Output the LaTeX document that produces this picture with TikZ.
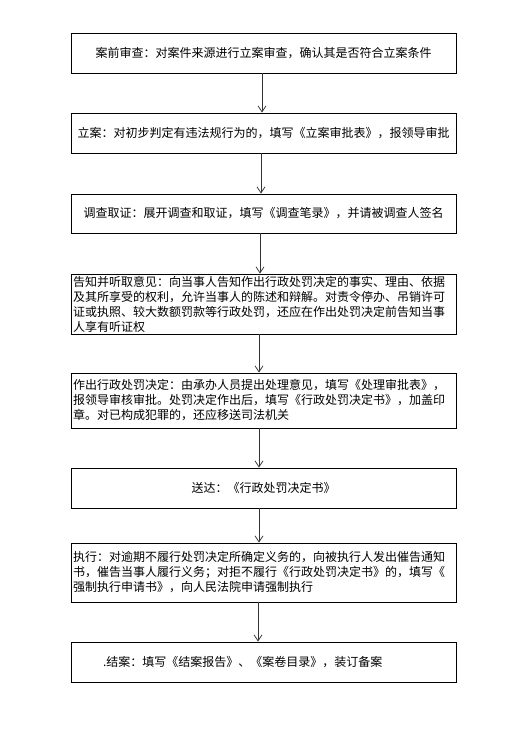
\documentclass[tikz,border=0pt]{standalone}
\usepackage{fontspec}
\setmainfont{Noto Sans CJK SC}
\usetikzlibrary{arrows.meta}
\begin{document}
\begin{tikzpicture}[x=1pt,y=-1pt,
  box/.style={draw=black,line width=0.8pt,minimum width=385pt,inner xsep=2pt,inner ysep=1pt,
    font=\fontsize{12pt}{15pt}\selectfont,text=black},
  onebox/.style={box,minimum height=40pt,align=center},
  multibox/.style={box,text width=381pt,align=left},
  arr/.style={draw=black!80,line width=0.8pt,-{Straight Barb[length=6pt,width=8pt,line width=0.8pt]}}]
\fill[white] (0,0) rectangle (530,735);
\useasboundingbox (0,0) rectangle (530,735);
\node[onebox] (b1) at (263.5,53) {案前审查：对案件来源进行立案审查，确认其是否符合立案条件};
\node[onebox] (b2) at (263.5,133) {立案：对初步判定有违法规行为的，填写《立案审批表》，报领导审批};
\node[onebox,minimum height=39pt] (b3) at (263.5,213.5) {调查取证：展开调查和取证，填写《调查笔录》，并请被调查人签名};
\node[multibox,minimum height=60pt] (b4) at (263.5,304) {告知并听取意见：向当事人告知作出行政处罚决定的事实、理由、依据\\及其所享受的权利，允许当事人的陈述和辩解。对责令停办、吊销许可\\证或执照、较大数额罚款等行政处罚，还应在作出处罚决定前告知当事\\人享有听证权};
\node[multibox,minimum height=55pt] (b5) at (263.5,400.5) {作出行政处罚决定：由承办人员提出处理意见，填写《处理审批表》，\\报领导审核审批。处罚决定作出后，填写《行政处罚决定书》，加盖印\\章。对已构成犯罪的，还应移送司法机关};
\node[onebox] (b6) at (263.5,488) {送达：《行政处罚决定书》};
\node[multibox,minimum height=59pt] (b7) at (263.5,572.5) {执行：对逾期不履行处罚决定所确定义务的，向被执行人发出催告通知\\书，催告当事人履行义务；对拒不履行《行政处罚决定书》的，填写《\\强制执行申请书》，向人民法院申请强制执行};
\node[multibox,minimum height=40pt] (b8) at (263.5,662) {\hspace*{30pt}.结案：填写《结案报告》、《案卷目录》，装订备案};
\draw[arr] ([xshift=-1.5pt]b1.south) -- ([xshift=-1.5pt]b2.north);
\draw[arr] ([xshift=-2.5pt]b2.south) -- ([xshift=-2.5pt]b3.north);
\draw[arr] ([xshift=-3.5pt]b3.south) -- ([xshift=-3.5pt]b4.north);
\draw[arr] ([xshift=-4.5pt]b4.south) -- ([xshift=-4.5pt]b5.north);
\draw[arr] ([xshift=-4.5pt]b5.south) -- ([xshift=-4.5pt]b6.north);
\draw[arr] ([xshift=-4.5pt]b6.south) -- ([xshift=-4.5pt]b7.north);
\draw[arr] ([xshift=-5.5pt]b7.south) -- ([xshift=-5.5pt]b8.north);
\end{tikzpicture}
\end{document}
